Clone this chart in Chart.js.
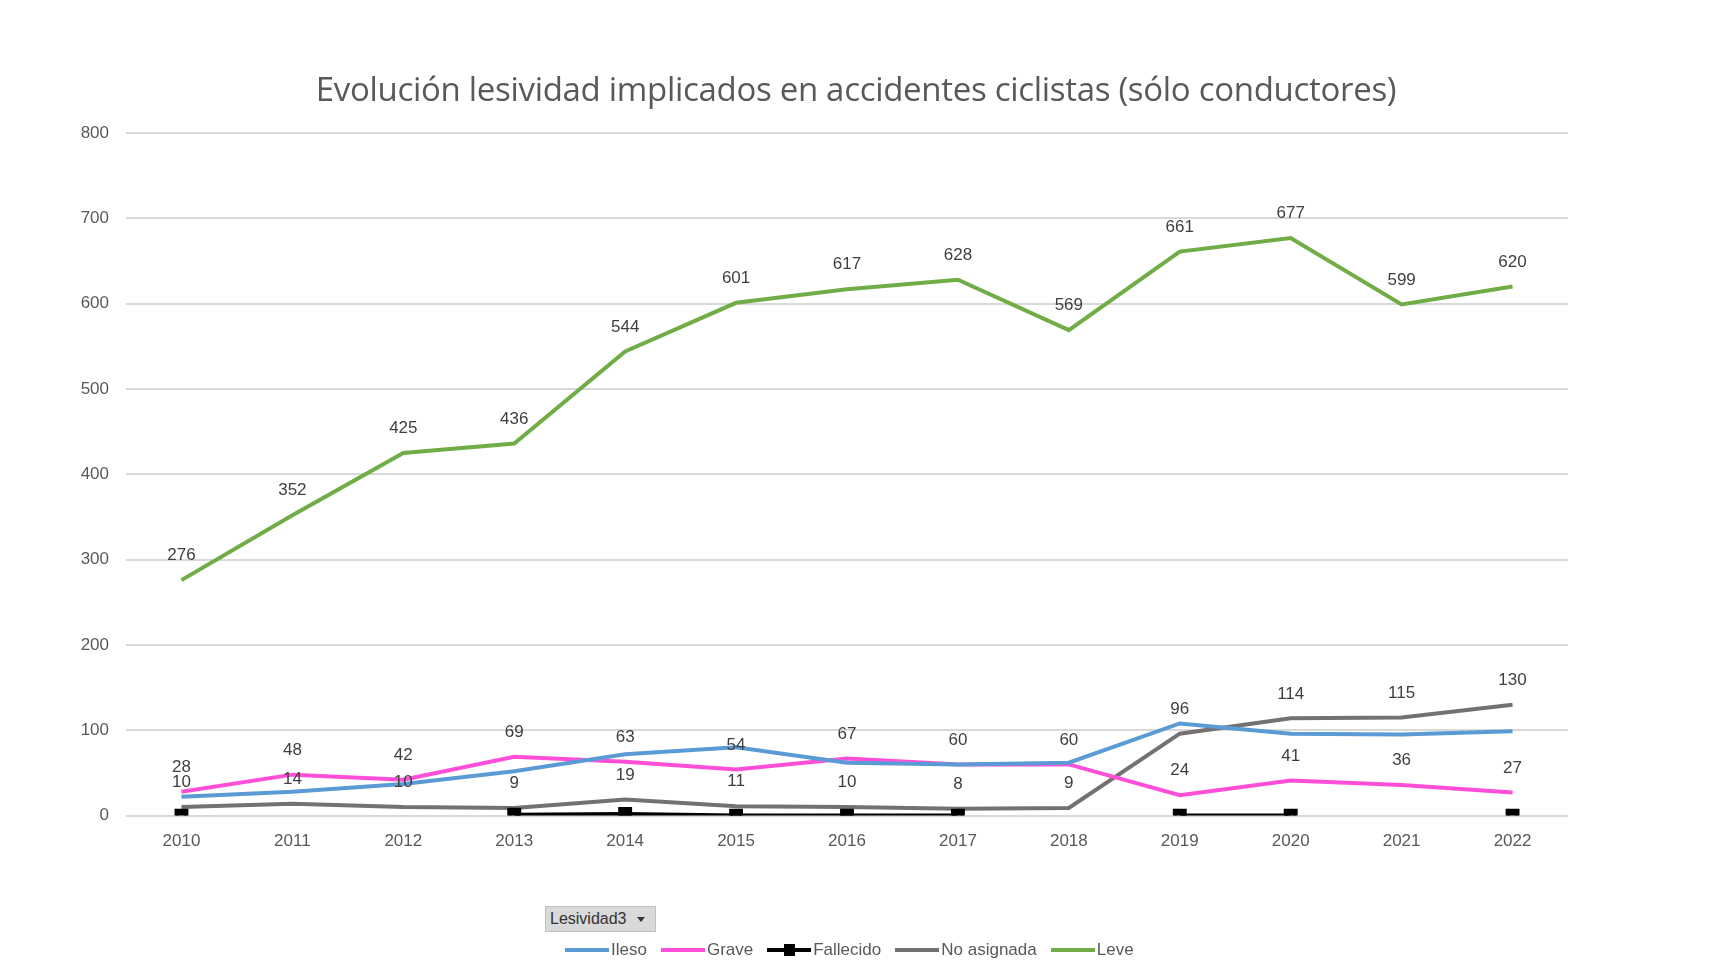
<!DOCTYPE html>
<html><head><meta charset="utf-8">
<script src="https://cdn.jsdelivr.net/npm/chart.js@4"></script>
<style>
body{margin:0;background:#fff;width:1712px;height:972px;overflow:hidden;font-family:"Liberation Sans",sans-serif;}
#wrap{position:absolute;left:0;top:0;width:1712px;height:972px;}
#title{position:absolute;left:0;top:66px;width:1712px;text-align:center;font-family:"Open Sans",sans-serif;font-size:33px;color:#595959;letter-spacing:-0.3px;}
#btn{position:absolute;left:545px;top:906px;width:111px;height:26px;background:#d9d9d9;border:1px solid #bfbfbf;box-sizing:border-box;font-size:16px;color:#333;line-height:24px;padding-left:4px;}
#btn:after{content:"";position:absolute;right:10px;top:10px;border-left:4px solid transparent;border-right:4px solid transparent;border-top:5px solid #333;}
#legend{position:absolute;left:565px;top:940px;font-size:17px;color:#595959;display:flex;gap:14px;}
#legend span{display:flex;align-items:center;}
#legend i{display:inline-block;width:44px;height:4px;margin-right:2px;position:relative;}
</style></head><body>
<div id="wrap"><canvas id="c" width="1712" height="972"></canvas></div>
<div id="title">Evolución lesividad implicados en accidentes ciclistas (sólo conductores)</div>
<div id="btn">Lesividad3</div>
<div id="legend">
<span><i style="background:#5b9bd5"></i>Ileso</span>
<span><i style="background:#ff4fd8"></i>Grave</span>
<span><i style="background:#000"><b style="position:absolute;left:17px;top:-4px;width:11px;height:12px;background:#000"></b></i>Fallecido</span>
<span><i style="background:#767171"></i>No asignada</span>
<span><i style="background:#70ad47"></i>Leve</span>
</div>
<script>
const years=["2010","2011","2012","2013","2014","2015","2016","2017","2018","2019","2020","2021","2022"];
const ileso=[22,28,37,52,72,80,62,60,62,108,96,95,99];
const grave=[28,48,42,69,63,54,67,60,60,24,41,36,27];
const fallecido=[0,null,null,1,2,0,0,0,null,0,0,null,0];
const noAsignada=[10,14,10,9,19,11,10,8,9,96,114,115,130];
const leve=[276,352,425,436,544,601,617,628,569,661,677,599,620];
const yTicks=[0,100,200,300,400,500,600,700,800];

const labelPlugin={id:'lbl',afterDatasetsDraw(chart){
 const ctx=chart.ctx;ctx.save();
 ctx.font='17px "Liberation Sans",sans-serif';ctx.fillStyle='#404040';
 ctx.textAlign='center';ctx.textBaseline='bottom';
 chart.data.datasets.forEach((ds,i)=>{ if(!ds.showLabels)return;
  chart.getDatasetMeta(i).data.forEach((p,j)=>{ if(ds.data[j]==null)return;
   ctx.fillText(String(ds.data[j]),p.x,p.y-16);});});
 ctx.restore();}};

const common={fill:false,tension:0,borderWidth:4,pointRadius:0,spanGaps:false};
new Chart(document.getElementById('c'),{type:'line',
 data:{labels:years,datasets:[
  {...common,label:'Ileso',data:ileso,borderColor:'#5b9bd5'},
  {...common,label:'Grave',data:grave,borderColor:'#ff4fd8',showLabels:true},
  {...common,label:'Fallecido',data:fallecido,borderColor:'#000',pointRadius:7,pointStyle:'rect',pointBackgroundColor:'#000',pointBorderColor:'#000'},
  {...common,label:'No asignada',data:noAsignada,borderColor:'#767171',showLabels:true},
  {...common,label:'Leve',data:leve,borderColor:'#70ad47',showLabels:true}
 ]},
 options:{responsive:false,animation:false,
  layout:{padding:{left:0,right:144,bottom:112,top:133}},
  plugins:{legend:{display:false},tooltip:{enabled:false},title:{display:false}},
  scales:{
   x:{offset:true,grid:{display:false},border:{display:false},
    ticks:{color:'#595959',font:{size:17,family:'"Liberation Sans",sans-serif'},padding:8}},
   y:{min:0,max:800,afterFit(s){s.width=126;},afterBuildTicks(s){s.ticks=yTicks.map(v=>({value:v}));},
    grid:{color:'#d9d9d9',lineWidth:2,drawTicks:false},border:{display:false},
    ticks:{color:'#595959',font:{size:17,family:'"Liberation Sans",sans-serif'},padding:17}}
  }},
 plugins:[labelPlugin]});
</script></body></html>
